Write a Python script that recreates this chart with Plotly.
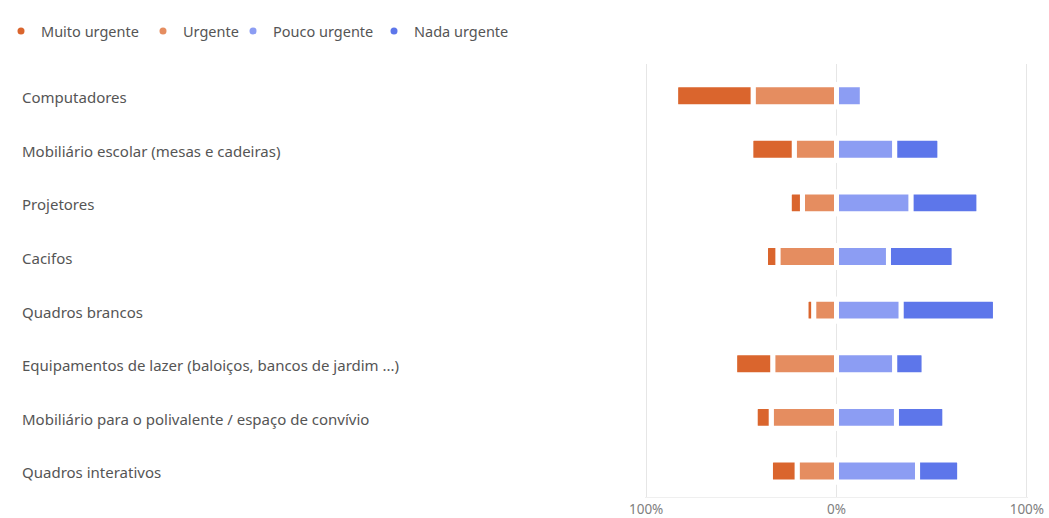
import plotly.graph_objects as go

# Survey items (top to bottom)
categories = [
    "Computadores",
    "Mobiliário escolar (mesas e cadeiras)",
    "Projetores",
    "Cacifos",
    "Quadros brancos",
    "Equipamentos de lazer (baloiços, bancos de jardim ...)",
    "Mobiliário para o polivalente / espaço de convívio",
    "Quadros interativos",
]

# Share of answers per urgency level (%)
muito_urgente = [40.7, 22.8, 6.9, 6.5, 4.0, 20.0, 8.4, 14.0]
urgente = [43.8, 22.2, 17.9, 30.8, 12.0, 33.5, 34.3, 20.7]
pouco_urgente = [13.6, 30.6, 39.2, 27.3, 34.0, 30.6, 31.5, 42.6]
nada_urgente = [1.7, 23.7, 35.6, 34.5, 49.5, 15.4, 25.4, 22.1]

tick_values = [-100, 0, 100]
tick_labels = ["100%", "0%", "100%"]

colors = {
    "Muito urgente": "#DA652D",
    "Urgente": "#E58D60",
    "Pouco urgente": "#8C9DF3",
    "Nada urgente": "#5D76EA",
}

FONT = "Segoe UI, Noto Sans, Open Sans, sans-serif"

# Plot area geometry (pixels)
L, R, T, B = 645, 21, 64, 21
PLOT_W = 1049 - L - R
PLOT_H = 518 - T - B


def paper_x(px):
    return (px - L) / PLOT_W


def paper_y(py):
    return 1 - (py - T) / PLOT_H


fig = go.Figure()

# Diverging stack: urgent levels extend left of zero, non-urgent to the right
series = [
    ("Urgente", [-v for v in urgente], urgente),
    ("Muito urgente", [-v for v in muito_urgente], muito_urgente),
    ("Pouco urgente", pouco_urgente, pouco_urgente),
    ("Nada urgente", nada_urgente, nada_urgente),
]
for name, xs, raw in series:
    fig.add_trace(go.Bar(
        x=xs,
        y=categories,
        orientation="h",
        name=name,
        customdata=raw,
        hovertemplate="%{y}<br>" + name + ": %{customdata:.1f}%<extra></extra>",
        marker=dict(color=colors[name], line=dict(color="white", width=5), cornerradius=3),
        width=0.41,
        showlegend=False,
    ))

# Round legend markers, one legend box per entry
legend_names = ["Muito urgente", "Urgente", "Pouco urgente", "Nada urgente"]
legend_left = [1, 143, 233, 374]
legend_ids = ["legend", "legend2", "legend3", "legend4"]
for name, lid in zip(legend_names, legend_ids):
    fig.add_trace(go.Scatter(
        x=[None], y=[None], mode="markers", name=name, legend=lid,
        marker=dict(color=colors[name], size=7, symbol="circle"),
    ))

legend_layout = {}
for lid, left in zip(legend_ids, legend_left):
    legend_layout[lid] = dict(
        orientation="h",
        x=paper_x(left), xanchor="left",
        y=paper_y(15), yanchor="top",
        font=dict(family=FONT, size=14.5, color="#555555"),
        itemwidth=30,
        bgcolor="rgba(0,0,0,0)",
    )

# Left-aligned category labels
for cat in categories:
    fig.add_annotation(
        x=paper_x(20), xref="paper", y=cat, yref="y",
        text=cat, showarrow=False, xanchor="left", yanchor="middle",
        yshift=-1.5,
        font=dict(family=FONT, size=15, color="#555555"),
    )

fig.update_layout(
    width=1049,
    height=518,
    margin=dict(l=L, r=R, t=T, b=B, autoexpand=False),
    paper_bgcolor="white",
    plot_bgcolor="white",
    barmode="relative",
    font=dict(family=FONT, color="#555555"),
    xaxis=dict(
        range=[-100.6, 100.6],
        tickvals=tick_values,
        ticktext=tick_labels,
        showgrid=True,
        gridcolor="#e6e6e6",
        gridwidth=1,
        zeroline=False,
        showline=True,
        linecolor="#efefef",
        tickfont=dict(family=FONT, size=13.5, color="#808080"),
        ticks="",
        fixedrange=True,
    ),
    yaxis=dict(
        type="category",
        categoryorder="array",
        categoryarray=categories,
        range=[7.485, -0.59],
        showticklabels=False,
        showgrid=False,
        zeroline=False,
        ticks="",
        fixedrange=True,
    ),
    **legend_layout,
)

fig.write_html("out.html")
